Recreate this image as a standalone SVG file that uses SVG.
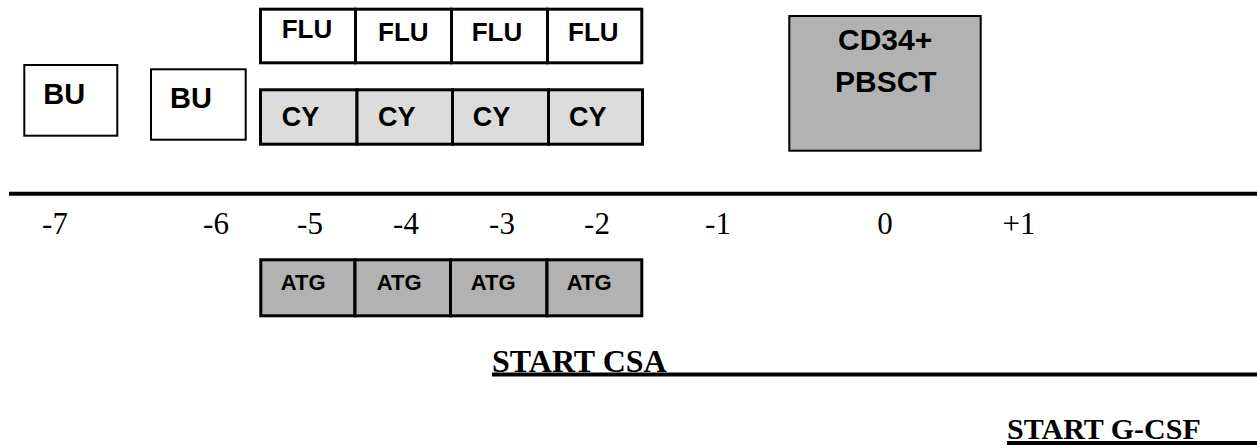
<svg xmlns="http://www.w3.org/2000/svg" width="1257" height="448" viewBox="0 0 1257 448">
<style>
.box{fill:#ffffff;stroke:#000;stroke-width:2}
.cell{stroke:#000;stroke-width:3}
.w{fill:#ffffff}
.lg{fill:#dcdcdc}
.dg{fill:#b2b2b2}
.lab{font-family:"Liberation Sans",Arial,sans-serif;font-weight:bold;fill:#000}
.ax{font-family:"Liberation Serif","Times New Roman",serif;font-size:31px;fill:#000;text-anchor:middle}
.st{font-family:"Liberation Serif","Times New Roman",serif;font-weight:bold;fill:#000}
.rule{stroke:#000;stroke-width:4}
</style>
<rect width="1257" height="448" fill="#fff"/>
<g id="bu1"><rect class="box" x="24.3" y="65" width="93" height="70.7"/><text class="lab" x="43.3" y="104.3" font-size="29">BU</text></g>
<g id="bu2"><rect class="box" x="151" y="69.3" width="94.7" height="70.4"/><text class="lab" x="170" y="108.3" font-size="29">BU</text></g>
<g id="flu1"><rect class="cell w" x="260.5" y="9.2" width="95" height="53.6"/><text class="lab" x="281.7" y="38.3" font-size="26">FLU</text></g>
<g id="flu2"><rect class="cell w" x="355.5" y="9.2" width="96" height="53.6"/><text class="lab" x="378" y="41.2" font-size="26">FLU</text></g>
<g id="flu3"><rect class="cell w" x="451.5" y="9.2" width="96" height="53.6"/><text class="lab" x="471.7" y="40.5" font-size="26">FLU</text></g>
<g id="flu4"><rect class="cell w" x="547.5" y="9.2" width="94.3" height="53.6"/><text class="lab" x="568" y="40.5" font-size="26">FLU</text></g>
<g id="cy1"><rect class="cell lg" x="260.5" y="89.8" width="96.5" height="54.4"/><text class="lab" x="281.7" y="125.7" font-size="27">CY</text></g>
<g id="cy2"><rect class="cell lg" x="357" y="89.8" width="95.5" height="54.4"/><text class="lab" x="378" y="125.7" font-size="27">CY</text></g>
<g id="cy3"><rect class="cell lg" x="452.5" y="89.8" width="96" height="54.4"/><text class="lab" x="472.7" y="125.7" font-size="27">CY</text></g>
<g id="cy4"><rect class="cell lg" x="548.5" y="89.8" width="94" height="54.4"/><text class="lab" x="569" y="125.7" font-size="27">CY</text></g>
<g id="cd34"><rect class="box dg" x="789.3" y="16" width="191.4" height="134.7" style="fill:#b2b2b2"/><text class="lab" x="838" y="50" font-size="30">CD34+</text><text class="lab" x="835" y="91.7" font-size="30">PBSCT</text></g>
<g id="atg1"><rect class="cell dg" x="260.8" y="259.8" width="94.2" height="56"/><text class="lab" x="280.7" y="290" font-size="22">ATG</text></g>
<g id="atg2"><rect class="cell dg" x="355" y="259.8" width="95.5" height="56"/><text class="lab" x="376.7" y="290" font-size="22">ATG</text></g>
<g id="atg3"><rect class="cell dg" x="450.5" y="259.8" width="96.5" height="56"/><text class="lab" x="470.7" y="290" font-size="22">ATG</text></g>
<g id="atg4"><rect class="cell dg" x="547" y="259.8" width="94.8" height="56"/><text class="lab" x="566.7" y="290" font-size="22">ATG</text></g>
<g id="connectors">
<line class="rule" x1="9" y1="193.7" x2="1257" y2="193.7"/>
<line class="rule" x1="492" y1="374.5" x2="1257" y2="374.5"/>
<line class="rule" x1="1007" y1="443" x2="1257" y2="443"/>
</g>
<g id="axis-labels">
<text class="ax" x="55" y="234">-7</text>
<text class="ax" x="216" y="234">-6</text>
<text class="ax" x="310" y="234">-5</text>
<text class="ax" x="406" y="234">-4</text>
<text class="ax" x="502" y="234">-3</text>
<text class="ax" x="597" y="234">-2</text>
<text class="ax" x="718" y="234">-1</text>
<text class="ax" x="885" y="234">0</text>
<text class="ax" x="1019" y="234">+1</text>
</g>
<g id="start-csa"><text class="st" x="492" y="371.7" font-size="32">START CSA</text></g>
<g id="start-gcsf"><text class="st" x="1007" y="439.3" font-size="30">START G-CSF</text></g>
</svg>
